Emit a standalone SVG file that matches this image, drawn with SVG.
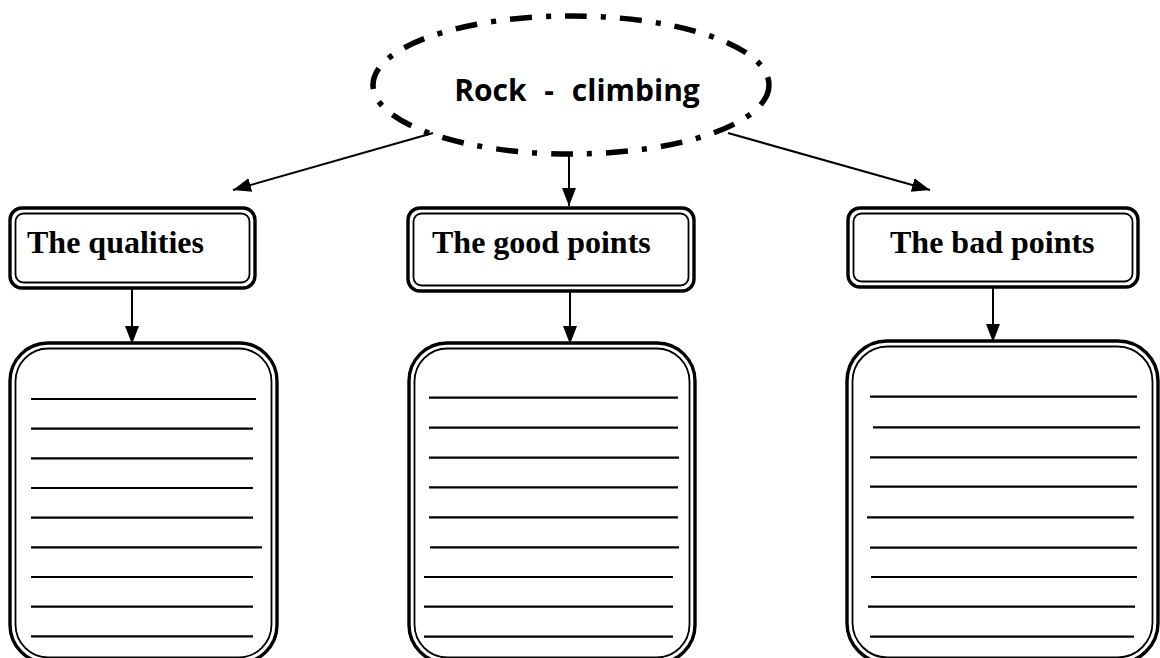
<svg xmlns="http://www.w3.org/2000/svg" width="1160" height="658" viewBox="0 0 1160 658">
<style>
.bg{fill:#fff}
.outer{fill:none;stroke:#000;stroke-width:3.4}
.inner{fill:none;stroke:#000;stroke-width:1.8}
.conn{stroke:#000;stroke-width:2;fill:none}
.rule{stroke:#000;stroke-width:2.2}
.head{font-family:"Liberation Serif",serif;font-weight:bold;font-size:32px;fill:#000}
.title{font-family:"Open Sans","DejaVu Sans",sans-serif;font-weight:bold;font-size:30px;word-spacing:10px;fill:#000}
</style>
<defs>
<marker id="ah" markerUnits="userSpaceOnUse" markerWidth="20" markerHeight="20" viewBox="0 0 20 20" refX="18" refY="10" orient="auto">
<path d="M0,3 L18,10 L0,17 Z" fill="#000"/>
</marker>
</defs>
<rect class="bg" x="0" y="0" width="1160" height="658"/>

<g id="rock-climbing">
<ellipse cx="571" cy="85" rx="198" ry="69" fill="none" stroke="#000" stroke-width="5.5" stroke-dasharray="22 14 5 14"/>
<text class="title" x="577" y="101" text-anchor="middle">Rock - climbing</text>
</g>

<g id="connectors">
<line class="conn" x1="433" y1="133" x2="233" y2="190" marker-end="url(#ah)"/>
<line class="conn" x1="569" y1="152" x2="569" y2="206" marker-end="url(#ah)"/>
<line class="conn" x1="728" y1="133" x2="930" y2="190" marker-end="url(#ah)"/>
<line class="conn" x1="132" y1="288" x2="132" y2="344" marker-end="url(#ah)"/>
<line class="conn" x1="570" y1="291" x2="570" y2="344" marker-end="url(#ah)"/>
<line class="conn" x1="993" y1="287" x2="993" y2="342" marker-end="url(#ah)"/>
</g>

<g id="qualities">
<rect class="outer" x="10" y="208" width="245" height="80" rx="12"/>
<rect class="inner" x="15.5" y="213.5" width="234" height="69" rx="8"/>
<text class="head" x="27" y="253">The qualities</text>
</g>

<g id="good-points">
<rect class="outer" x="408" y="208" width="286" height="83" rx="12"/>
<rect class="inner" x="413.5" y="213.5" width="275" height="72" rx="8"/>
<text class="head" x="432" y="253">The good points</text>
</g>

<g id="bad-points">
<rect class="outer" x="848" y="208" width="290" height="79" rx="12"/>
<rect class="inner" x="853.5" y="213.5" width="279" height="68" rx="8"/>
<text class="head" x="890" y="253">The bad points</text>
</g>

<g id="qualities-list">
<rect class="outer" x="10" y="343" width="267" height="320" rx="38"/>
<rect class="inner" x="15.5" y="348.5" width="256" height="309" rx="33"/>
<line class="rule" x1="31" y1="399" x2="256" y2="399"/>
<line class="rule" x1="31" y1="428.7" x2="253" y2="428.7"/>
<line class="rule" x1="31" y1="458.3" x2="253" y2="458.3"/>
<line class="rule" x1="31" y1="488" x2="253" y2="488"/>
<line class="rule" x1="31" y1="517.7" x2="253" y2="517.7"/>
<line class="rule" x1="31" y1="547.3" x2="262" y2="547.3"/>
<line class="rule" x1="31" y1="577" x2="253" y2="577"/>
<line class="rule" x1="31" y1="606.7" x2="253" y2="606.7"/>
<line class="rule" x1="31" y1="636.3" x2="253" y2="636.3"/>
</g>

<g id="good-points-list">
<rect class="outer" x="409" y="343" width="286" height="320" rx="38"/>
<rect class="inner" x="414.5" y="348.5" width="275" height="309" rx="33"/>
<line class="rule" x1="429" y1="397.7" x2="678" y2="397.7"/>
<line class="rule" x1="429" y1="427.7" x2="678" y2="427.7"/>
<line class="rule" x1="429" y1="457.7" x2="679" y2="457.7"/>
<line class="rule" x1="429" y1="487.3" x2="678" y2="487.3"/>
<line class="rule" x1="429" y1="517.3" x2="678" y2="517.3"/>
<line class="rule" x1="430" y1="547.3" x2="679" y2="547.3"/>
<line class="rule" x1="424" y1="577" x2="673" y2="577"/>
<line class="rule" x1="424" y1="606.7" x2="673" y2="606.7"/>
<line class="rule" x1="424" y1="636.7" x2="673" y2="636.7"/>
</g>

<g id="bad-points-list">
<rect class="outer" x="847" y="341" width="311" height="322" rx="40"/>
<rect class="inner" x="852.5" y="346.5" width="300" height="311" rx="35"/>
<line class="rule" x1="870" y1="396.7" x2="1137" y2="396.7"/>
<line class="rule" x1="873" y1="427.3" x2="1140" y2="427.3"/>
<line class="rule" x1="870" y1="457.3" x2="1137" y2="457.3"/>
<line class="rule" x1="870" y1="486.7" x2="1137" y2="486.7"/>
<line class="rule" x1="867" y1="517.3" x2="1134" y2="517.3"/>
<line class="rule" x1="870" y1="547.7" x2="1137" y2="547.7"/>
<line class="rule" x1="871" y1="577" x2="1137" y2="577"/>
<line class="rule" x1="868" y1="606.7" x2="1135" y2="606.7"/>
<line class="rule" x1="870" y1="636.7" x2="1134" y2="636.7"/>
</g>
</svg>
